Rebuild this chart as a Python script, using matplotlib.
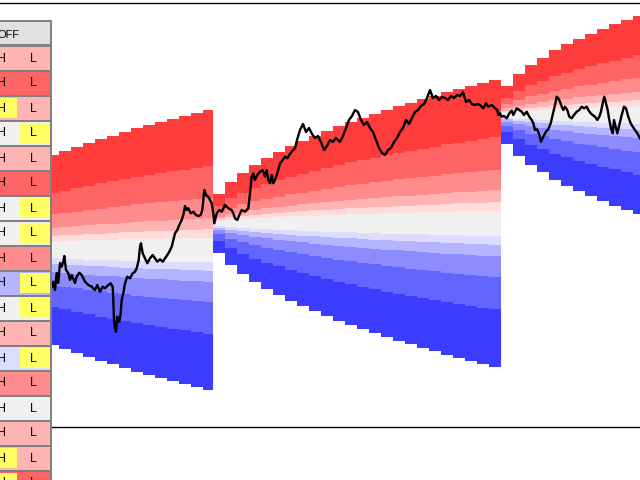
import matplotlib
matplotlib.use('Agg')
import matplotlib.pyplot as plt
from matplotlib.patches import Rectangle

# ---------------- data (y in screen-price units) ----------------
# distribution blocks: column edges (time), centre level and half-width per column
b1_edges = [47.3, 59.3, 71.3, 83.3, 95.3, 107.3, 119.3, 131.3, 143.3, 155.3, 167.3,
            179.3, 191.3, 203.3, 212.7]
b1_center = 250.0
b1_hw = [95, 98.9, 102.9, 106.9, 110.9, 114.4, 118.4, 121.7, 125.2, 128.2, 131,
         134, 136.9, 139.9]

b2_edges = [213, 225, 237, 249, 261, 273, 285, 297, 309, 321, 333, 345, 357, 369,
            381, 393, 405, 417, 429, 441, 453, 465, 477, 489, 501]
b2_center = 223.4
b2_hw = [29.3, 41.6, 50.6, 58.6, 65.6, 71.6, 77.6, 82.6, 87.6, 92.6, 97.6, 101.6,
         105.6, 109.6, 113.6, 117.6, 120.6, 124.6, 127.6, 131.6, 134.6, 137.6,
         140.6, 143.3]

b3_edges = [501, 513, 525, 537, 549, 561, 573, 585, 597, 609, 621, 633, 645]
b3_center = 115.0
b3_hw = [28.7, 40.7, 49.7, 57.4, 64.7, 70.7, 76.4, 81.4, 86.4, 90.7, 95.4, 99.4]

# band boundaries as fraction of the half-width (top -> bottom)
band_fracs = [-1.0, -0.60, -0.374, -0.23, -0.148, -0.089,
              0.089, 0.148, 0.23, 0.374, 0.60, 1.0]
band_colors = ['#ff3c3c', '#ff6464', '#ff8c8c', '#ffb4b4', '#ffdcdc', '#f0f0f0',
               '#dcdcff', '#b4b4ff', '#8c8cff', '#6464ff', '#3c3cff']

# price line
price_t = [52, 53.3, 55, 56.7, 58.3, 60, 61.7, 63.3, 64.3, 66, 68.3, 70, 71.7, 75,
           76.7, 79.3, 81.7, 85, 88.3, 91.7, 95, 97.3, 100, 102.7, 105, 108.3, 110.7,
           112.7, 113.3, 114, 115.3, 116, 117.3, 119.3, 120.7, 121.7, 123.3, 125,
           127.3, 130, 132.7, 135, 136.7, 138.7, 140, 141, 142.7, 145, 147.3, 150,
           152.7, 155, 157.3, 160, 162.7, 165, 167.3, 169.3, 171.7, 173.3, 175,
           177.3, 179.3, 181.7, 183.3, 185, 186.7, 188.3, 190.7, 193.3, 196, 198.3,
           200.7, 202.3, 203.3, 204.3, 206, 208.3, 211.7, 213.3, 214.3, 216.7, 219.3,
           221.7, 225, 228.3, 231.7, 233.3, 235, 237.3, 239.3, 241.7, 245, 248.3, 250,
           251.7, 253.3, 255, 257.3, 260, 262.7, 265, 266.7, 268.3, 270, 271.7, 273.3,
           275, 277.3, 280, 282.7, 285, 287.3, 289.3, 291.7, 295, 297, 300, 303, 306,
           309, 312, 315, 318, 321, 324, 327, 330, 333, 336, 340, 343, 346, 349, 352,
           355, 358, 361, 364, 367, 370, 373, 376, 379, 382, 385, 388, 391, 394, 397,
           400, 403, 406, 409, 412, 415, 418, 421, 424, 427, 430, 433, 436, 439, 442,
           445, 448, 451, 454, 457, 460, 463, 466, 469, 472, 475, 478, 480, 483.3, 486,
           488.3, 491.7, 495, 497.3, 498.3, 500, 501.7, 504, 506.7, 509.3, 511.7,
           513.3, 516.7, 519.3, 521.7, 524, 526.7, 529.3, 531.7, 533.3, 535, 537.3,
           539.3, 541, 543.3, 546, 548.3, 550.7, 552.7, 555, 556.7, 558.3, 560, 561.7,
           563.3, 565, 567.3, 569.3, 571.7, 574, 576.7, 579.3, 581.7, 584, 586.7,
           588.3, 590.7, 592.7, 595, 597.3, 599.3, 601, 602.7, 604.3, 606, 607.7,
           609.3, 611, 612.7, 614, 616, 617.3, 619.3, 621.7, 624, 626, 628.3, 630.7,
           632.7, 635, 637.3, 640]
price_v = [286.7, 281.7, 290, 273, 283, 263, 266.7, 261.7, 256, 270, 273, 280, 275,
           283, 276.7, 272.7, 275, 281.7, 285, 286.7, 290, 285, 291.7, 286.7, 288.3,
           285, 283.3, 286.7, 300, 320, 330, 331.7, 316.7, 321.7, 313.3, 300, 293.3,
           283.3, 276.7, 278.3, 273.3, 271.7, 268.3, 260, 246.7, 243.3, 253.3, 258.3,
           263.3, 258.3, 255, 258.3, 261.7, 259.3, 261.7, 258.3, 255, 251.7, 246.7,
           240, 233.3, 230, 225, 220, 215, 206, 210, 208.3, 213.3, 211.7, 215, 216,
           215, 210, 200, 190, 195, 196.7, 203.3, 213.3, 223.3, 213.3, 210, 211.7,
           205, 208.3, 210, 213.3, 218.3, 220, 215, 210, 211.7, 208.3, 193.3, 176.7,
           173.3, 180, 175, 171.7, 170, 176.7, 170, 180, 183.3, 175, 183.3, 180,
           173.3, 163.3, 160, 156.7, 158.3, 155, 151.7, 148.3, 140, 130, 124, 132,
           128, 134, 138, 136, 142, 150, 146, 140, 142, 138, 142, 136, 128, 120, 116,
           110, 112, 120, 125, 122, 128, 132, 140, 148, 153, 155, 150, 148, 142, 138,
           132, 128, 120, 124, 118, 112, 110, 106, 104, 98, 90, 98, 96, 100, 97, 98,
           100, 96, 98, 95, 96, 92, 102, 100, 104, 105, 104, 105, 108.3, 103.3, 106.7,
           105, 108.3, 110, 115, 113.3, 116.7, 116, 118.3, 113.3, 110.7, 115, 108.3,
           110, 111.7, 115, 111.7, 116.7, 120, 123.3, 130, 129.3, 135, 141.7, 136.7,
           131.7, 129.3, 123.3, 115, 105, 96.7, 98.3, 101.7, 106.7, 110, 106.7, 110,
           116.7, 118.3, 115, 111.7, 110, 106.7, 108.3, 106.7, 110, 113.3, 115, 116.7,
           120, 116.7, 111.7, 103.3, 96.7, 103.3, 110, 120, 128.3, 133.3, 120, 128.3,
           133.3, 125, 115, 106.7, 108.3, 116.7, 123.3, 126.7, 130, 133.3, 138.3]

# side panel
panel_header = 'OFF'
row_colors = ['#ffb4b4', '#ff6464', '#ffb4b4', '#f0f0f0', '#ffb4b4', '#ff6464',
              '#f0f0f0', '#f0f0f0', '#ff8c8c', '#b4b4ff', '#f0f0f0', '#ffb4b4',
              '#dcdcff', '#ff8c8c', '#f0f0f0', '#ffb4b4', '#ffb4b4', '#ff6464']
row_marks = ['', '', 'H', 'L', '', '', 'L', 'L', '', 'L', 'L', '', 'L', '', '',
             '', 'H', 'H']

# ---------------- drawing ----------------
fig = plt.figure(figsize=(6.4, 4.8), dpi=100)
ax = fig.add_axes([0, 0, 1, 1])
ax.set_xlim(0, 640)
ax.set_ylim(480, 0)
ax.axis('off')

for edges, center, hw in [(b1_edges, b1_center, b1_hw),
                          (b2_edges, b2_center, b2_hw),
                          (b3_edges, b3_center, b3_hw)]:
    lefts = edges[:-1]
    widths = [edges[i + 1] - edges[i] for i in range(len(lefts))]
    for i, col in enumerate(band_colors):
        lo = [center + band_fracs[i] * h for h in hw]
        hi = [center + band_fracs[i + 1] * h for h in hw]
        ax.bar(lefts, [b - a for a, b in zip(lo, hi)], width=widths, bottom=lo,
               align='edge', color=col, linewidth=0, antialiased=False, zorder=1)

ax.plot(price_t, price_v, color='black', lw=1.7, zorder=3)

# frame lines
ax.plot([0, 640], [2.5, 2.5], color='black', lw=1.0, zorder=4)
ax.plot([52, 640], [426.5, 426.5], color='black', lw=1.0, zorder=4)

# panel
gray = '#808080'
ax.add_patch(Rectangle((-30, 20), 82, 470, facecolor=gray, edgecolor='none', zorder=5))
ax.add_patch(Rectangle((-30, 21.8), 80, 22.4, facecolor='#e0e0e0', edgecolor='none', zorder=6))
ax.text(8.5, 34.5, panel_header, fontsize=8, family='Liberation Sans',
        ha='center', va='center', zorder=8)
for k, (c, m) in enumerate(zip(row_colors, row_marks)):
    top = 46.5 + 25 * k
    ax.add_patch(Rectangle((-30, top), 80, 23, facecolor=c, edgecolor='none', zorder=6))
    if m == 'H':
        ax.add_patch(Rectangle((-30, top + 1.2), 47.3, 20.6, facecolor='#ffff64',
                               edgecolor='none', zorder=7))
    elif m == 'L':
        ax.add_patch(Rectangle((20, top + 1.2), 29.8, 20.6, facecolor='#ffff64',
                               edgecolor='none', zorder=7))
    ax.text(2, top + 12, 'H', fontsize=9, family='Liberation Sans',
            ha='center', va='center', zorder=8)
    ax.text(33.7, top + 12, 'L', fontsize=9, family='Liberation Sans',
            ha='center', va='center', zorder=8)

fig.savefig('out.png', dpi=100)
